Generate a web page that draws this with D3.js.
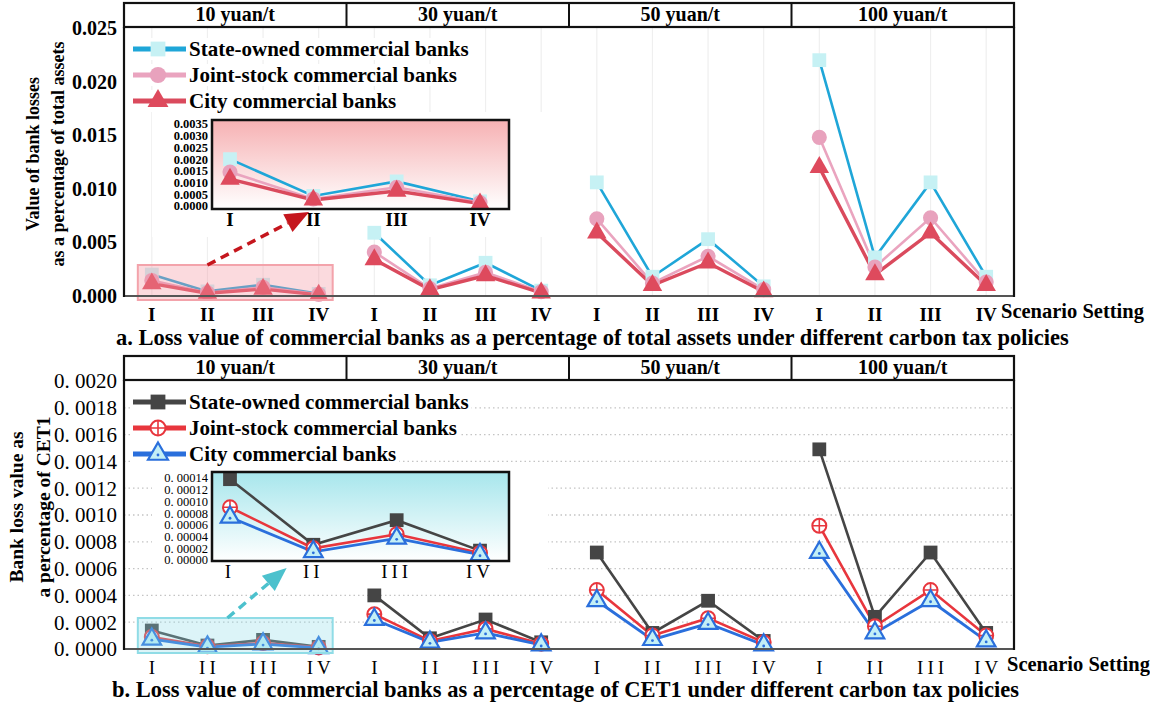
<!DOCTYPE html>
<html>
<head>
<meta charset="utf-8">
<script src="https://cdn.jsdelivr.net/npm/d3@7"></script>
<style>
  body { margin: 0; background: #fff; }
  svg { display: block; }
  text { font-family: "Liberation Serif", "Times New Roman", serif; }
</style>
</head>
<body>
<div id="chart"></div>
<script>
// scenario labels and carbon tax levels
const scenarios = ["I", "II", "III", "IV"];
const taxLevels = ["10 yuan/t", "30 yuan/t", "50 yuan/t", "100 yuan/t"];
const bankNames = ["State-owned commercial banks", "Joint-stock commercial banks", "City commercial banks"];

// panel a: losses / total assets (4 tax levels x 4 scenarios)
const assetsState = [0.0020, 0.00043, 0.00105, 0.0002, 0.0059, 0.0010, 0.0031, 0.0005, 0.0106, 0.0018, 0.0053, 0.0009, 0.0220, 0.0036, 0.0106, 0.0018];
const assetsJoint = [0.00145, 0.0003, 0.0008, 0.00015, 0.0041, 0.0007, 0.0022, 0.0004, 0.0072, 0.0012, 0.0037, 0.0006, 0.0148, 0.0027, 0.0073, 0.0013];
const assetsCity = [0.00115, 0.00026, 0.00064, 0.0001, 0.0034, 0.0006, 0.0019, 0.0003, 0.0059, 0.0010, 0.0031, 0.0004, 0.0120, 0.0020, 0.0059, 0.0010];

// panel b: losses / CET1
const cet1State = [0.000138, 0.000026, 0.000068, 0.000016, 0.00040, 0.00008, 0.00022, 0.00005, 0.00072, 0.00012, 0.00036, 0.00006, 0.00149, 0.00024, 0.00072, 0.00012];
const cet1Joint = [0.00009, 0.00002, 0.000044, 0.000012, 0.00026, 0.00006, 0.00015, 0.00004, 0.00044, 0.00010, 0.00023, 0.00005, 0.00092, 0.00017, 0.00044, 0.00010];
const cet1City = [0.000073, 0.000014, 0.000037, 0.000009, 0.00022, 0.00005, 0.00012, 0.00003, 0.00036, 0.00007, 0.00019, 0.00003, 0.00072, 0.00012, 0.00036, 0.00006];

// tick values
const assetsTicks = [0, 0.005, 0.010, 0.015, 0.020, 0.025];
const assetsInsetTicks = [0, 0.0005, 0.0010, 0.0015, 0.0020, 0.0025, 0.0030, 0.0035];
const cet1Ticks = [0, 0.0002, 0.0004, 0.0006, 0.0008, 0.0010, 0.0012, 0.0014, 0.0016, 0.0018, 0.0020];
const cet1InsetTicks = [0, 0.00002, 0.00004, 0.00006, 0.00008, 0.00010, 0.00012, 0.00014];

const svg = d3.select("#chart").append("svg").attr("width", 1150).attr("height", 706);
const defs = svg.append("defs");
const left = 124, right = 1014;
const x = d3.scalePoint().domain(d3.range(16)).range([left, right]).padding(0.5);

function drawMarker(g, s, cx, cy, scale) {
  const k = scale || 1;
  if (s.marker === "square") {
    g.append("path").attr("d", d3.symbol(d3.symbolSquare, 190 * k)()).attr("transform", `translate(${cx},${cy})`).attr("fill", s.fill);
  } else if (s.marker === "circle") {
    g.append("path").attr("d", d3.symbol(d3.symbolCircle, 180 * k)()).attr("transform", `translate(${cx},${cy})`).attr("fill", s.fill);
  } else if (s.marker === "triangle") {
    g.append("path").attr("d", d3.symbol(d3.symbolTriangle, 165 * k)()).attr("transform", `translate(${cx},${cy})`).attr("fill", s.fill);
  } else if (s.marker === "oplus") {
    const r = 7 * Math.sqrt(k);
    g.append("circle").attr("cx", cx).attr("cy", cy).attr("r", r).attr("fill", "#fff").attr("stroke", s.color).attr("stroke-width", 2);
    g.append("path").attr("d", `M${cx - r},${cy}H${cx + r}M${cx},${cy - r}V${cy + r}`).attr("stroke", s.color).attr("stroke-width", 1.6);
  } else if (s.marker === "otri") {
    g.append("path").attr("d", d3.symbol(d3.symbolTriangle, 150 * k)()).attr("transform", `translate(${cx},${cy})`)
      .attr("fill", s.fill).attr("stroke", s.color).attr("stroke-width", 2.2);
    g.append("circle").attr("cx", cx).attr("cy", cy + 1).attr("r", 1.4).attr("fill", s.color);
  }
}

function arrow(g, x1, y1, x2, y2, color, len, wid) {
  const a = Math.atan2(y2 - y1, x2 - x1);
  const bx = x2 - len * Math.cos(a), by = y2 - len * Math.sin(a);
  g.append("line").attr("x1", x1).attr("y1", y1).attr("x2", bx).attr("y2", by)
    .attr("stroke", color).attr("stroke-width", 3.5).attr("stroke-dasharray", "9,6");
  const px = -Math.sin(a) * wid / 2, py = Math.cos(a) * wid / 2;
  g.append("path").attr("d", `M${x2},${y2}L${bx + px},${by + py}L${bx - px},${by - py}Z`).attr("fill", color);
}

function drawPanel(cfg) {
  const g = svg.append("g");
  const y = d3.scaleLinear().domain([0, d3.max(cfg.ticks)]).range([cfg.bottom, cfg.yTop]);
  const wt = cfg.bold ? "bold" : "normal";

  // grid
  if (cfg.vgrid) {
    g.append("g").selectAll("line").data(d3.range(16)).join("line")
      .attr("x1", (d) => x(d)).attr("x2", (d) => x(d)).attr("y1", cfg.headerBottom).attr("y2", cfg.bottom)
      .attr("stroke", "#efefef").attr("stroke-width", 1.2);
  }
  if (cfg.hgrid) {
    g.append("g").selectAll("line").data(cfg.ticks.slice(1, -1)).join("line")
      .attr("x1", left).attr("x2", right).attr("y1", (d) => y(d)).attr("y2", (d) => y(d))
      .attr("stroke", "#c4c4c4").attr("stroke-width", 1.3).attr("stroke-dasharray", "1.5,3");
  }

  // white box behind the inset
  const ins = cfg.inset;
  g.append("rect").attr("x", 152).attr("y", ins.top - 8).attr("width", 396).attr("height", ins.bottom - ins.top + 36).attr("fill", "#fff");

  // legend
  cfg.series.forEach((s, i) => {
    const ly = cfg.legendY[i];
    const row = g.append("g");
    const bg = row.append("rect").attr("x", 132).attr("y", ly - 11).attr("height", 22).attr("fill", "#fff");
    row.append("line").attr("x1", 133).attr("x2", 186).attr("y1", ly).attr("y2", ly).attr("stroke", s.color).attr("stroke-width", 5);
    drawMarker(row, s, 158, ly, 1.15);
    const t = row.append("text").attr("x", 189).attr("y", ly).attr("dy", "0.34em").attr("font-size", 21).attr("font-weight", "bold").text(s.name);
    bg.attr("width", 60 + t.node().getComputedTextLength());
  });

  // lines and markers per tax level
  const line = d3.line().x((d) => x(d.i)).y((d) => y(d.v));
  cfg.series.forEach((s) => {
    for (let p = 0; p < 4; p++) {
      const pts = d3.range(p * 4, p * 4 + 4).map((i) => ({ i, v: s.values[i] }));
      g.append("path").datum(pts).attr("d", line).attr("fill", "none").attr("stroke", s.color).attr("stroke-width", s.width);
    }
  });
  cfg.series.forEach((s) => {
    s.values.forEach((v, i) => drawMarker(g, s, x(i), y(v)));
  });

  // highlight box over the first tax level
  g.append("rect").attr("x", x(0) - 14).attr("y", cfg.bottom - 31).attr("width", x(3) - x(0) + 28).attr("height", 35)
    .attr("fill", cfg.hlFill).attr("stroke", cfg.hlStroke).attr("stroke-width", 2);

  // inset
  const ix = d3.scalePoint().domain(scenarios).range([ins.x0 + 18, ins.x1 - 29]);
  const iy = d3.scaleLinear().domain([0, d3.max(ins.ticks)]).range([ins.yBottom, ins.yTop]);
  const gid = "grad" + cfg.id;
  const grad = defs.append("linearGradient").attr("id", gid).attr("x1", 0).attr("x2", 0).attr("y1", 0).attr("y2", 1);
  grad.append("stop").attr("offset", "0%").attr("stop-color", ins.color);
  grad.append("stop").attr("offset", "100%").attr("stop-color", "#ffffff");
  g.append("rect").attr("x", ins.x0).attr("y", ins.top).attr("width", ins.x1 - ins.x0).attr("height", ins.bottom - ins.top).attr("fill", `url(#${gid})`);
  const iline = d3.line().x((d) => ix(d.c)).y((d) => iy(d.v));
  cfg.series.forEach((s) => {
    const pts = scenarios.map((c, k) => ({ c, v: s.values[k] }));
    g.append("path").datum(pts).attr("d", iline).attr("fill", "none").attr("stroke", s.color).attr("stroke-width", s.width);
  });
  cfg.series.forEach((s) => {
    scenarios.forEach((c, k) => drawMarker(g, s, ix(c), iy(s.values[k])));
  });
  g.append("rect").attr("x", ins.x0).attr("y", ins.top).attr("width", ins.x1 - ins.x0).attr("height", ins.bottom - ins.top)
    .attr("fill", "none").attr("stroke", "#111").attr("stroke-width", 2.5);
  g.append("g").selectAll("text").data(ins.ticks).join("text")
    .attr("x", ins.x0 - 4).attr("y", (d) => iy(d)).attr("dy", "0.35em").attr("text-anchor", "end")
    .attr("font-size", 12.5).attr("font-weight", wt).text(ins.fmt);
  g.append("g").selectAll("text").data(scenarios).join("text")
    .attr("x", (d) => ix(d)).attr("y", ins.bottom + 17).attr("text-anchor", "middle")
    .attr("font-size", 19).attr("font-weight", wt).attr("letter-spacing", cfg.bold ? 0 : 4).text((d) => d);

  // arrow from highlight box to inset
  arrow(g, x(1) + cfg.arrowDx, cfg.bottom - 31, ix("I") + (ix("II") - ix("I")) * cfg.arrowTip, ins.bottom + cfg.arrowGap, cfg.arrowColor, 24, 20);

  // frame
  g.append("line").attr("x1", left).attr("x2", right).attr("y1", cfg.bottom).attr("y2", cfg.bottom).attr("stroke", "#555").attr("stroke-width", 1.8);
  g.append("line").attr("x1", left).attr("x2", left).attr("y1", cfg.headerBottom).attr("y2", cfg.bottom + 1).attr("stroke", "#111").attr("stroke-width", 2.2);
  g.append("line").attr("x1", right).attr("x2", right).attr("y1", cfg.headerBottom).attr("y2", cfg.bottom + 1).attr("stroke", "#111").attr("stroke-width", 2.2);

  // header strip with tax levels
  g.append("rect").attr("x", left).attr("y", cfg.headerTop).attr("width", right - left).attr("height", cfg.headerBottom - cfg.headerTop)
    .attr("fill", "#fff").attr("stroke", "#111").attr("stroke-width", 2.2);
  const step = x.step();
  g.append("g").selectAll("line").data([1, 2, 3]).join("line")
    .attr("x1", (p) => x(p * 4) - step / 2).attr("x2", (p) => x(p * 4) - step / 2)
    .attr("y1", cfg.headerTop).attr("y2", cfg.headerBottom).attr("stroke", "#111").attr("stroke-width", 2);
  g.append("g").selectAll("text").data(taxLevels).join("text")
    .attr("x", (d, p) => (x(p * 4) + x(p * 4 + 3)) / 2).attr("y", (cfg.headerTop + cfg.headerBottom) / 2).attr("dy", "0.3em")
    .attr("text-anchor", "middle").attr("font-size", 20).attr("font-weight", "bold").text((d) => d);

  // y tick labels
  g.append("g").selectAll("text").data(cfg.ticks).join("text")
    .attr("x", 117).attr("y", (d) => y(d)).attr("dy", "0.35em").attr("text-anchor", "end")
    .attr("font-size", cfg.tickSize).attr("font-weight", wt).text(cfg.fmt);

  // x labels
  g.append("g").selectAll("text").data(d3.range(16)).join("text")
    .attr("x", (d) => x(d) + (cfg.bold ? 0 : 2)).attr("y", cfg.bottom + 25).attr("text-anchor", "middle")
    .attr("font-size", 19).attr("font-weight", wt).attr("letter-spacing", cfg.bold ? 0 : 4).text((d) => scenarios[d % 4]);
  g.append("text").attr("x", cfg.scenarioX).attr("y", cfg.bottom + 22).attr("font-size", 20.5).attr("font-weight", "bold").text("Scenario Setting");

  // axis title and panel caption
  const mid = (cfg.yTop + cfg.bottom) / 2 - 8;
  cfg.yLabel.forEach((t, i) => {
    g.append("text").attr("transform", `translate(${cfg.yLabelX[i]},${mid}) rotate(-90)`).attr("text-anchor", "middle")
      .attr("font-size", cfg.yLabelSize).attr("font-weight", "bold").text(t);
  });
  g.append("text").attr("x", cfg.captionX).attr("y", cfg.captionY).attr("font-size", 22.5).attr("font-weight", "bold").text(cfg.caption);
}

drawPanel({
  id: "a", bold: true, vgrid: true, hgrid: false,
  headerTop: 3, headerBottom: 27, yTop: 28, bottom: 296,
  ticks: assetsTicks, fmt: d3.format(".3f"), tickSize: 20,
  legendY: [49, 75, 101],
  series: [
    { name: bankNames[0], values: assetsState, color: "#1fa6d8", fill: "#c6f1f4", marker: "square", width: 2.6 },
    { name: bankNames[1], values: assetsJoint, color: "#eaa4bf", fill: "#e8a2bd", marker: "circle", width: 2.6 },
    { name: bankNames[2], values: assetsCity, color: "#da4a5d", fill: "#de4a5d", marker: "triangle", width: 3.4 }
  ],
  hlFill: "rgba(244,150,160,0.35)", hlStroke: "#f3a3ab",
  inset: { x0: 212, x1: 509, top: 120, bottom: 209, yBottom: 206, yTop: 124, ticks: assetsInsetTicks, fmt: d3.format(".4f"), color: "#f6b1b3" },
  arrowColor: "#c5161d", arrowDx: 0, arrowTip: 0.95, arrowGap: 3,
  scenarioX: 1001,
  yLabel: ["Value of bank losses", "as a percentage of total assets"], yLabelX: [39, 64], yLabelSize: 18,
  caption: "a. Loss value of commercial banks as a percentage of total assets under different carbon tax policies",
  captionX: 116, captionY: 345
});

drawPanel({
  id: "b", bold: false, vgrid: false, hgrid: true,
  headerTop: 356, headerBottom: 380, yTop: 381, bottom: 649,
  ticks: cet1Ticks, fmt: (d) => d3.format(".4f")(d).replace(".", ". "), tickSize: 21,
  legendY: [402, 428, 454],
  series: [
    { name: bankNames[0], values: cet1State, color: "#454545", fill: "#454545", marker: "square", width: 2.6 },
    { name: bankNames[1], values: cet1Joint, color: "#e8363d", fill: "#fff", marker: "oplus", width: 2.6 },
    { name: bankNames[2], values: cet1City, color: "#2a6fdc", fill: "#c3eff6", marker: "otri", width: 2.8 }
  ],
  hlFill: "rgba(140,220,232,0.3)", hlStroke: "#90dce6",
  inset: { x0: 212, x1: 509, top: 472, bottom: 561, yBottom: 560, yTop: 478, ticks: cet1InsetTicks, fmt: (d) => d3.format(".5f")(d).replace(".", ". "), color: "#a7e6ec" },
  arrowColor: "#4cc1cd", arrowDx: 20, arrowTip: 0.68, arrowGap: 7,
  scenarioX: 1007,
  yLabel: ["Bank loss value as", "a percentage of CET1"], yLabelX: [23, 50], yLabelSize: 19.5,
  caption: "b. Loss value of commercial banks as a percentage of CET1 under different carbon tax policies",
  captionX: 112, captionY: 697
});
</script>
</body>
</html>
